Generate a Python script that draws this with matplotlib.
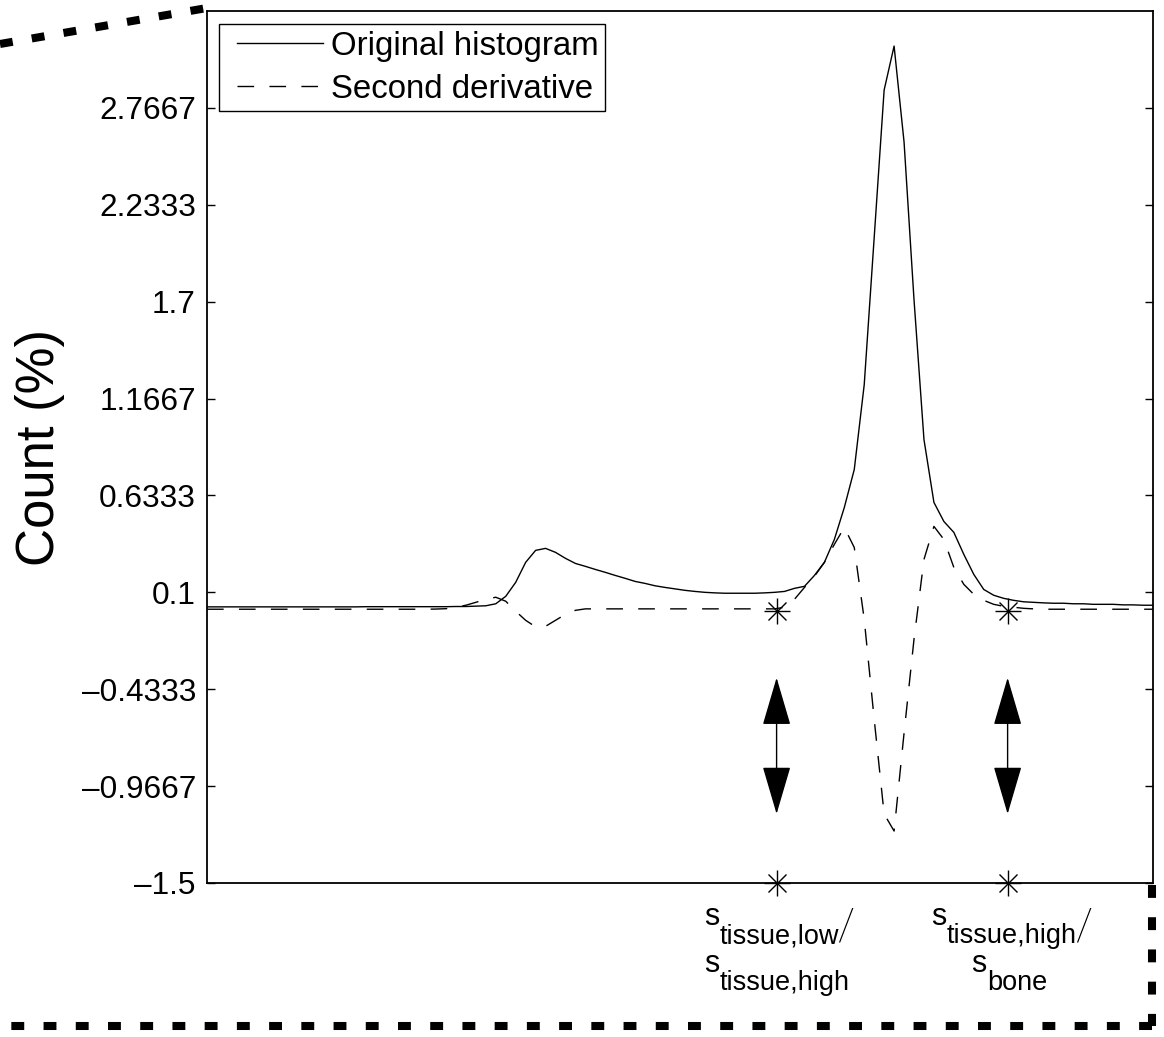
import numpy as np
import matplotlib.pyplot as plt
import matplotlib.transforms as mtransforms
from matplotlib.lines import Line2D
from matplotlib.legend_handler import HandlerLine2D

plt.rcParams['font.family'] = ['Liberation Sans', 'DejaVu Sans']

# histogram bins (index) and the two curves, values in %
bins = np.arange(96)
histogram = [0.020, 0.020, 0.020, 0.020, 0.020, 0.020, 0.020, 0.020, 0.020, 0.020,
             0.020, 0.020, 0.020, 0.020, 0.020, 0.020, 0.021, 0.021, 0.021, 0.021,
             0.021, 0.021, 0.021, 0.021, 0.021, 0.022, 0.022, 0.024, 0.026, 0.037,
             0.078, 0.155, 0.265, 0.331, 0.342, 0.320, 0.287, 0.259, 0.243, 0.226,
             0.210, 0.193, 0.177, 0.160, 0.149, 0.136, 0.127, 0.119, 0.111, 0.105,
             0.100, 0.097, 0.095, 0.095, 0.095, 0.095, 0.097, 0.100, 0.105, 0.122,
             0.133, 0.193, 0.265, 0.391, 0.567, 0.776, 1.243, 2.052, 2.865, 3.107,
             2.579, 1.711, 0.941, 0.595, 0.490, 0.430, 0.309, 0.199, 0.116, 0.084,
             0.067, 0.056, 0.048, 0.045, 0.042, 0.040, 0.040, 0.037, 0.037, 0.034,
             0.034, 0.034, 0.031, 0.031, 0.029, 0.029]
second_derivative = [0.007, 0.007, 0.007, 0.007, 0.007, 0.007, 0.007, 0.007, 0.007, 0.007,
                     0.007, 0.007, 0.007, 0.007, 0.007, 0.007, 0.007, 0.007, 0.007, 0.007,
                     0.007, 0.007, 0.007, 0.008, 0.010, 0.018, 0.029, 0.045, 0.062, 0.073,
                     0.051, -0.004, -0.054, -0.090, -0.087, -0.054, -0.021, 0.001, 0.009, 0.009,
                     0.009, 0.009, 0.009, 0.009, 0.009, 0.009, 0.009, 0.009, 0.009, 0.009,
                     0.009, 0.009, 0.009, 0.009, 0.009, 0.009, 0.009, 0.009, 0.018, 0.062,
                     0.127, 0.188, 0.265, 0.364, 0.457, 0.347, -0.048, -0.598, -1.120, -1.214,
                     -0.675, -0.158, 0.281, 0.463, 0.391, 0.237, 0.144, 0.089, 0.056, 0.034,
                     0.023, 0.018, 0.012, 0.009, 0.007, 0.007, 0.007, 0.007, 0.007, 0.007,
                     0.007, 0.007, 0.007, 0.007, 0.007, 0.007]

# detected thresholds
threshold_x = [57.2, 80.4]
threshold_y = [0.0, 0.0]
arrow_top = -0.37
arrow_bottom = -1.12

ytick_values = [-1.5, -0.9667, -0.4333, 0.1, 0.6333, 1.1667, 1.7, 2.2333, 2.7667]
ytick_labels = ['\u20131.5', '\u20130.9667', '\u20130.4333', '0.1', '0.6333',
                '1.1667', '1.7', '2.2333', '2.7667']
legend_labels = ['Original histogram', 'Second derivative']
# (base, subscript, trailing slash) per line, per threshold
threshold_labels = [[('s', 'tissue,low', True), ('s', 'tissue,high', False)],
                    [('s', 'tissue,high', True), ('s', 'bone', False)]]

W, H = 1164, 1037
fig = plt.figure(figsize=(W / 100, H / 100), dpi=100)
ax = fig.add_axes([207 / W, 1 - 883 / H, 946 / W, 872 / H])

ax.plot(bins, histogram, color='k', lw=1.0, label=legend_labels[0])
ax.plot(bins, second_derivative, color='k', lw=1.0, dashes=(12, 11), label=legend_labels[1])

# asterisk markers (MATLAB style '*')
for yy in (threshold_y, [-1.5, -1.5]):
    ax.plot(threshold_x, yy, ls='none', marker='+', ms=19, mew=1.0, color='k', clip_on=False, zorder=5)
    ax.plot(threshold_x, yy, ls='none', marker='x', ms=13.5, mew=1.0, color='k', clip_on=False, zorder=5)

for x in threshold_x:
    ax.annotate('', xy=(x, arrow_bottom), xytext=(x, arrow_top),
                arrowprops=dict(arrowstyle='<|-|>,head_length=31,head_width=9.1',
                                mutation_scale=1, color='k', lw=1.0,
                                shrinkA=0, shrinkB=0))

ax.set_xlim(0, 95)
ax.set_ylim(-1.5, 3.3)
ax.set_xticks([])
ax.set_yticks(ytick_values)
ax.set_yticklabels(ytick_labels)
ax.tick_params(axis='y', direction='in', length=5.8, width=1.0, right=True,
               labelsize=22.7, pad=8)
for sp in ax.spines.values():
    sp.set_linewidth(1.3)

ax.set_ylabel('Count (%)', fontsize=38)
ax.yaxis.set_label_coords(-0.150, 0.5)

leg = ax.legend(loc='upper left', bbox_to_anchor=(0.0127, 0.985), fontsize=23.8,
                frameon=True, fancybox=False, framealpha=1, edgecolor='k',
                handlelength=2.94, handletextpad=0.24, borderpad=0.2,
                labelspacing=0.36, borderaxespad=0,
                handler_map={Line2D: HandlerLine2D(xpad=0.35)})
leg.get_frame().set_linewidth(1.0)


def threshold_label(x, y_axes, dx, base, sub, slash):
    trans = mtransforms.offset_copy(ax.get_xaxis_transform(), fig=fig, x=dx, y=0, units='dots')
    t0 = ax.text(x, y_axes, base, transform=trans, ha='left', va='baseline',
                 fontsize=22, clip_on=False)
    t1 = ax.annotate(sub, xy=(1, 0), xycoords=t0, xytext=(0, -17),
                     textcoords='offset pixels', ha='left', va='bottom',
                     fontsize=19.5, annotation_clip=False)
    if slash:
        ax.annotate('/', xy=(1, 0), xycoords=t1, xytext=(-2, 1),
                    textcoords='offset pixels', ha='left', va='bottom',
                    fontsize=32, fontfamily=['Roboto', 'Liberation Sans'],
                    fontweight='light', annotation_clip=False)


line_y = [-0.0482, -0.1021]
line_dx = [[-72, -72], [-76, -36]]
for i, x in enumerate(threshold_x):
    for j, (base, sub, slash) in enumerate(threshold_labels[i]):
        threshold_label(x, line_y[j], line_dx[i][j], base, sub, slash)

# zoom connector lines around the panel
conn = dict(color='k', lw=5.8, dashes=(1.6, 2.4), solid_capstyle='butt',
            dash_capstyle='butt', transform=fig.transFigure)
fig.add_artist(Line2D([0 / W, 207 / W], [1 - 44 / H, 1 - 8 / H], **conn))
fig.add_artist(Line2D([1152 / W, 1152 / W], [1 - 885 / H, 1 - 1026 / H], **conn))
fig.add_artist(Line2D([1152 / W, 0], [1 - 1026 / H, 1 - 1026 / H], **conn))

fig.savefig('out.png', dpi=100)
